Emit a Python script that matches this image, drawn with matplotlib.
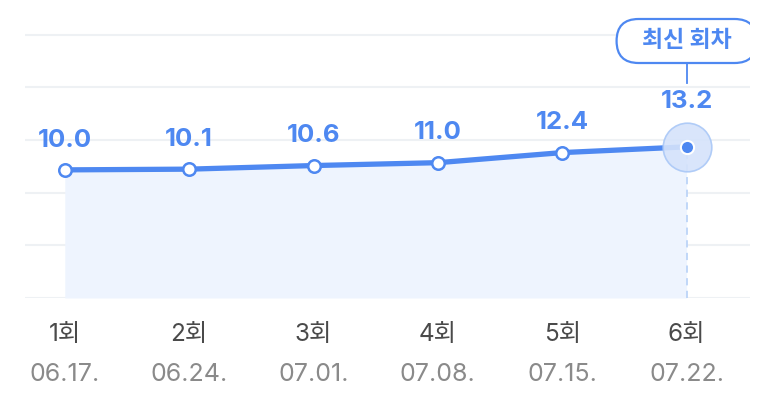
import matplotlib
matplotlib.use("Agg")
import numpy as np
import matplotlib.pyplot as plt
from matplotlib.patches import FancyBboxPatch
from matplotlib.transforms import IdentityTransform

plt.rcParams['font.family'] = ['Noto Sans CJK KR', 'DejaVu Sans']
NUMFONT = ['Inter', 'Noto Sans CJK KR', 'DejaVu Sans']

# datos
rounds = ['1회', '2회', '3회', '4회', '5회', '6회']
dates = ['06.17.', '06.24.', '07.01.', '07.08.', '07.15.', '07.22.']
values = [10.0, 10.1, 10.6, 11.0, 12.4, 13.2]
badge_text = '최신 회차'

BLUE = '#4e88f1'
FILL = '#eef4fe'
GRID = '#eef1f4'

W, H = 773, 394
fig = plt.figure(figsize=(W / 100, H / 100), dpi=100)
# ejes: x 25..750 px, y 0..298 px
ax = fig.add_axes([25 / W, (H - 298) / H, 725 / W, 298 / H])
ax.set_axis_off()

x = np.arange(len(values))
ymin, grid_top, ymax = -7.8, 28.8, 33.6
ax.set_xlim(-0.32, 5.51)
ax.set_ylim(ymin, ymax)

# lineas de cuadricula
for g in np.linspace(ymin, grid_top, 6):
    ax.axhline(g, color=GRID, lw=1.5, zorder=0)

# area y linea
ax.fill_between(x, values, ymin, color=FILL, zorder=1, lw=0)
ax.plot(x, values, color=BLUE, lw=3.8, zorder=3, solid_capstyle='round')
ax.plot(x[:-1], values[:-1], 'o', ms=9, mfc='white', mec=BLUE, mew=1.8, zorder=4)

# punto destacado
ax.plot([x[-1], x[-1]], [ymin, values[-1]], color='#bcd4f8', lw=1.3,
        ls=(0, (4, 3)), zorder=2)
ax.plot(x[-1], values[-1], 'o', ms=35, mfc='#d5e3fb', mec='#aac8f7', mew=1.2,
        alpha=0.9, zorder=4)
ax.plot(x[-1], values[-1], 'o', ms=9.5, mfc=BLUE, mec='white', mew=1.5, zorder=5)

# etiquetas de valores
for i, v in enumerate(values):
    off = 33 if i == len(values) - 1 else 21.5
    ax.annotate(f'{v:.1f}', (x[i], v), xytext=(0, off), textcoords='offset points',
                ha='center', va='center', fontsize=18.5, fontweight='bold',
                color=BLUE, zorder=6, family=NUMFONT)

# etiquetas del eje x
for i in range(len(rounds)):
    ax.annotate(rounds[i], (x[i], 0), xycoords=('data', 'axes fraction'),
                xytext=(0, -26), textcoords='offset points', ha='center',
                va='center', fontsize=17.5, color='#4a4a4a', annotation_clip=False,
                family=NUMFONT)
    ax.annotate(dates[i], (x[i], 0), xycoords=('data', 'axes fraction'),
                xytext=(0, -55), textcoords='offset points', ha='center',
                va='center', fontsize=18, color='#8a8a8a', annotation_clip=False,
                family=NUMFONT)

# insignia "최신 회차"
fig.canvas.draw()
px, py = ax.transData.transform((x[-1], values[-1]))
cy = H - 41
badge = FancyBboxPatch((px - 70, cy - 22), 140, 44,
                       boxstyle='round,pad=0,rounding_size=22',
                       transform=IdentityTransform(), fc='white', ec=BLUE,
                       lw=1.6, zorder=7)
badge.set_clip_box(ax.bbox)
fig.patches.append(badge)
fig.text(px / W, cy / H + 0.002, badge_text, ha='center', va='center',
         fontsize=16.5, fontweight='bold', color=BLUE, zorder=8)
fig.add_artist(plt.Line2D([px / W, px / W], [(H - 63) / H, (H - 83) / H],
                          color=BLUE, lw=1.3, transform=fig.transFigure))

fig.savefig('out.png', dpi=100, facecolor='white')
